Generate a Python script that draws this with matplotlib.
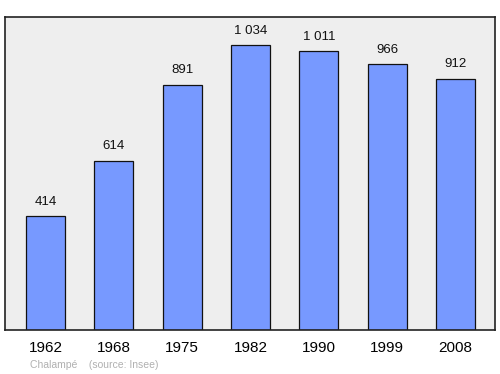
import matplotlib.pyplot as plt
import numpy as np

plt.rcParams["font.family"] = ["Liberation Sans", "DejaVu Sans"]

years = ["1962", "1968", "1975", "1982", "1990", "1999", "2008"]
population = [414, 614, 891, 1034, 1011, 966, 912]
value_labels = ["414", "614", "891", "1 034", "1 011", "966", "912"]

fig = plt.figure(figsize=(5, 3.74), dpi=100)
ax = fig.add_axes([5 / 500, 1 - 330 / 374, 490 / 500, 313 / 374])
ax.set_facecolor("#eeeeee")

x = np.arange(len(years))
ax.bar(x, population, width=0.57, color="#7799ff", edgecolor="#111111", linewidth=0.9)

for xi, v, lab in zip(x, population, value_labels):
    ax.annotate(lab, (xi, v), xytext=(0, 6), textcoords="offset points",
                ha="center", va="bottom", fontsize=9.5, color="#111111")

ax.set_xlim(-0.593, 6.578)
ax.set_ylim(0, 1136)
ax.set_yticks([])
ax.set_xticks(x)
ax.set_xticklabels(years, fontsize=11)
ax.tick_params(axis="x", length=0, pad=8)
for s in ax.spines.values():
    s.set_linewidth(1.2)
    s.set_color("#222222")

fig.text(30 / 500, 1 - 365 / 374, "Chalampé    (source: Insee)", fontsize=7.5,
         color="#b0b0b0", va="center", ha="left")

fig.savefig("out.png", dpi=100)
